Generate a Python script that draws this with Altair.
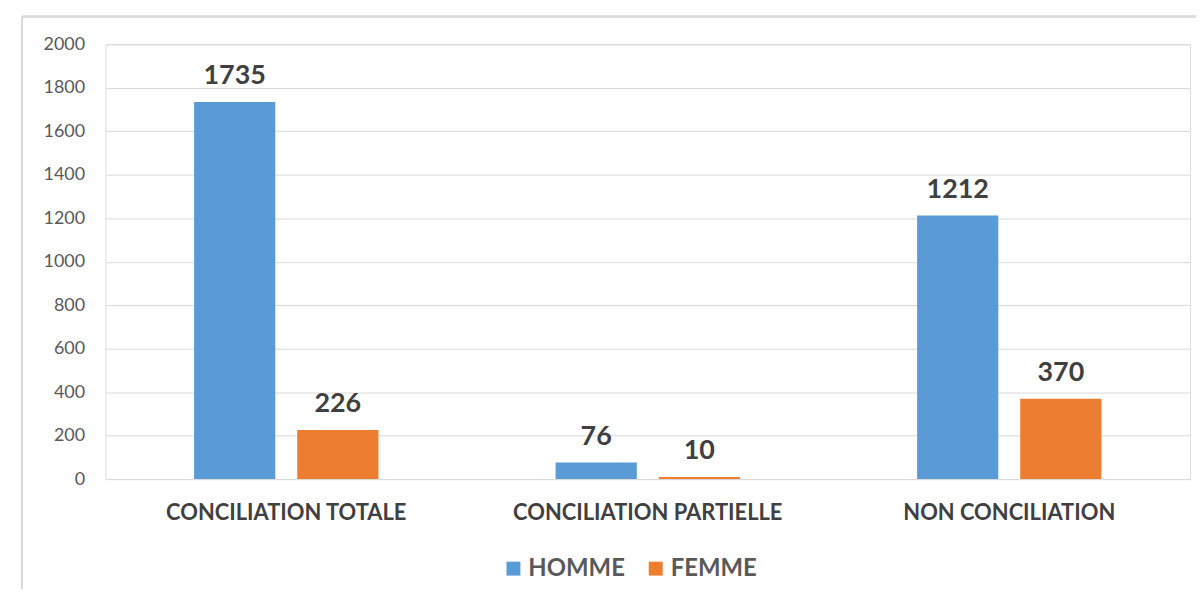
import altair as alt
import pandas as pd

categories = ["CONCILIATION TOTALE", "CONCILIATION PARTIELLE", "NON CONCILIATION"]
series = ["HOMME", "FEMME"]
homme = [1735, 76, 1212]
femme = [226, 10, 370]
colors = ["#5B9BD5", "#ED7D31"]
y_ticks = list(range(0, 2001, 200))

rows = []
for c, h, f in zip(categories, homme, femme):
    rows.append({"cat": c, "sexe": "HOMME", "val": h})
    rows.append({"cat": c, "sexe": "FEMME", "val": f})
df = pd.DataFrame(rows)

FONT = "Lato"
W, H = 1090, 437

x = alt.X("cat:N", sort=categories, title=None,
          scale=alt.Scale(paddingInner=0.49, paddingOuter=0.245),
          axis=alt.Axis(labelAngle=0, labelFontSize=22, labelFontWeight="bold",
                        labelColor="#404040", labelPadding=24, ticks=False,
                        domain=False, labelFont=FONT, labelLimit=0))
xo = alt.XOffset("sexe:N", sort=series, scale=alt.Scale(paddingInner=0.2125, paddingOuter=0))
y = alt.Y("val:Q", title=None,
          scale=alt.Scale(domain=[0, 2000], nice=False),
          axis=alt.Axis(values=y_ticks, format="d", labelFontSize=18, labelColor="#595959",
                        labelPadding=21, ticks=False, domain=False,
                        gridColor="#d9d9d9", gridWidth=1, labelFont=FONT))
color = alt.Color("sexe:N", sort=series, title=None,
                  scale=alt.Scale(domain=series, range=colors),
                  legend=alt.Legend(orient="none", legendX=398, legendY=515,
                                    direction="horizontal", symbolType="square",
                                    symbolSize=196, symbolStrokeWidth=0,
                                    labelFontSize=24, labelFontWeight="bold",
                                    labelColor="#595959", labelFont=FONT,
                                    labelOffset=3, columnPadding=18, labelLimit=0))

bars = alt.Chart(df).mark_bar().encode(x=x, xOffset=xo, y=y, color=color)
labels = alt.Chart(df).mark_text(baseline="alphabetic", dy=-18, fontSize=27,
                                 fontWeight="bold", color="#404040", font=FONT).encode(
    x=alt.X("cat:N", sort=categories), xOffset=xo, y="val:Q", text="val:Q")

frame_top = alt.Chart(df).mark_rule(color="#d9d9d9", strokeWidth=1.5).encode(
    x=alt.value(-84), x2=alt.value(W + 6), y=alt.value(-28))
frame_left = alt.Chart(df).mark_rule(color="#d9d9d9", strokeWidth=1.5).encode(
    x=alt.value(-84), y=alt.value(-28), y2=alt.value(H + 110))

chart = alt.layer(frame_top, frame_left, bars, labels).properties(
    width=W, height=H,
    autosize=alt.AutoSizeParams(type="none"),
    padding={"left": 98, "top": 35, "right": 6, "bottom": 110},
).configure_view(stroke=None).configure(font=FONT)

chart.save("out.html", embed_options={"renderer": "svg", "actions": False})
